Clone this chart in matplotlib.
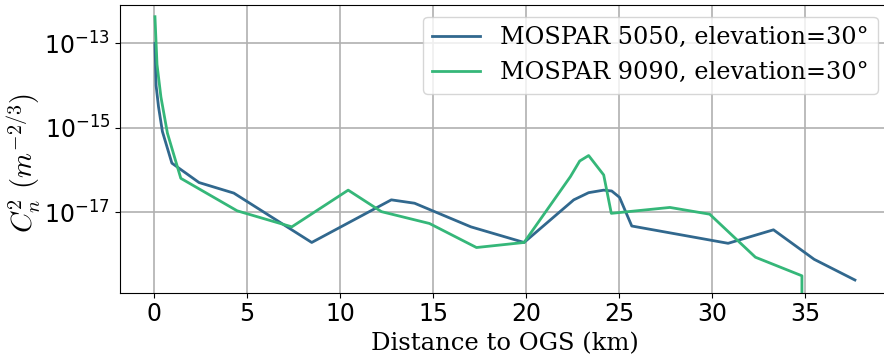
import matplotlib
matplotlib.use("Agg")
import matplotlib.pyplot as plt
import numpy as np

# MOSPAR 5050 profile (distance km, log10 Cn2)
x_5050 = [0.04, 0.1, 0.23, 0.44, 0.95, 2.41, 4.28, 8.47, 12.75, 14.0, 17.03, 19.89,
          22.56, 23.36, 24.17, 24.6, 25.02, 25.68, 30.86, 33.3, 35.49, 37.68]
logc_5050 = [-13.0, -14.0, -14.5, -15.09, -15.84, -16.3, -16.55, -17.72, -16.71, -16.79,
             -17.35, -17.72, -16.71, -16.54, -16.48, -16.5, -16.65, -17.33, -17.74,
             -17.42, -18.12, -18.61]

# MOSPAR 9090 profile (last sample is zero -> drops off the log axis)
x_9090 = [0.04, 0.15, 0.36, 0.71, 1.43, 4.46, 7.4, 10.43, 12.22, 14.8, 17.33, 19.89,
          22.38, 22.88, 23.36, 24.17, 24.58, 27.73, 29.87, 32.33, 34.83, 34.83]
logc_9090 = [-12.37, -13.5, -14.27, -15.13, -16.2, -16.97, -17.35, -16.48, -16.99,
             -17.27, -17.84, -17.72, -16.16, -15.79, -15.66, -16.12, -17.03, -16.89,
             -17.05, -18.07, -18.51, None]

y_5050 = [10.0 ** v for v in logc_5050]
y_9090 = [10.0 ** v if v is not None else 0.0 for v in logc_9090]

ytick_vals = [1e-17, 1e-15, 1e-13]

plt.rcParams['font.size'] = 18
plt.rcParams['mathtext.fontset'] = 'dejavusans'
plt.rcParams['axes.unicode_minus'] = False

fig = plt.figure(figsize=(8.84, 3.6), dpi=100)
ax = fig.add_axes([0.1357, 0.187, 0.871, 0.8])

ax.plot(x_5050, y_5050, color='#31688e', lw=2, label='MOSPAR 5050, elevation=30°')
ax.plot(x_9090, y_9090, color='#35b779', lw=2, label='MOSPAR 9090, elevation=30°')
ax.set_yscale('log')
ax.set_yticks(ytick_vals)
ax.set_ylim(10 ** -18.91, 10 ** -12.085)
ax.minorticks_off()
ax.tick_params(labelsize=17)
ax.grid(True, color='#b0b0b0', lw=1.2)

ax.set_xlabel('Distance to OGS (km)', family='DejaVu Serif', fontsize=17.5)
ax.set_ylabel(r'$C_n^2$ $(m^{-2/3})$', math_fontfamily='cm', fontsize=20.5)
ax.yaxis.set_label_coords(-0.1, 0.449)
ax.legend(loc='upper right', prop={'family': 'DejaVu Serif', 'size': 17.3})

plt.savefig("out.png", dpi=100)
